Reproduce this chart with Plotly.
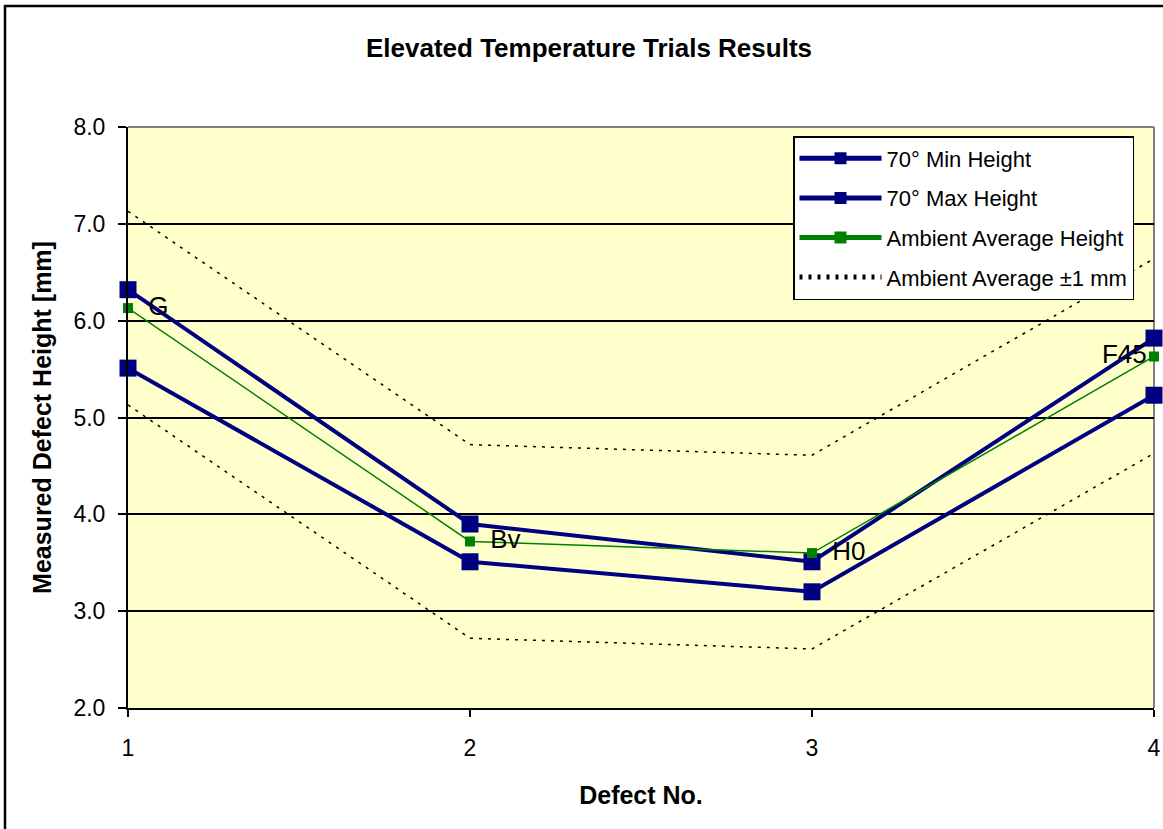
import plotly.graph_objects as go

defects = [1, 2, 3, 4]
min_height = [5.51, 3.51, 3.20, 5.23]
max_height = [6.32, 3.90, 3.51, 5.82]
ambient_avg = [6.13, 3.72, 3.60, 5.63]
ambient_upper = [7.13, 4.72, 4.61, 6.64]
ambient_lower = [5.13, 2.72, 2.61, 4.63]
point_labels = ["G", "Bv", "H0", "F45"]
y_ticks = [2, 3, 4, 5, 6, 7, 8]

NAVY = "#000080"
GREEN = "#008000"
FONT = "Arial, Liberation Sans, sans-serif"

label_text = ["\u2002" + t for t in point_labels[:-1]] + [point_labels[-1]]
label_pos = ["middle right"] * (len(point_labels) - 1) + ["middle left"]

fig = go.Figure()

fig.add_trace(go.Scatter(
    x=defects, y=ambient_upper, mode="lines", name="Ambient Average ±1 mm",
    line=dict(color="black", width=1.5, dash="3px,6px"), showlegend=True,
    legendrank=4, legendgroup="d"))
fig.add_trace(go.Scatter(
    x=defects, y=ambient_lower, mode="lines", name="Ambient Average ±1 mm",
    line=dict(color="black", width=1.5, dash="3px,6px"), showlegend=False,
    legendgroup="d"))

fig.add_trace(go.Scatter(
    x=defects, y=min_height, mode="lines+markers", name="70° Min Height",
    line=dict(color=NAVY, width=4), marker=dict(symbol="square", size=17, color=NAVY),
    cliponaxis=False, legendrank=1, legendgroup="a"))
fig.add_trace(go.Scatter(
    x=defects, y=max_height, mode="lines+markers", name="70° Max Height",
    line=dict(color=NAVY, width=4), marker=dict(symbol="square", size=17, color=NAVY),
    cliponaxis=False, legendrank=2, legendgroup="b"))
fig.add_trace(go.Scatter(
    x=defects, y=ambient_avg, mode="lines+markers+text", name="Ambient Average Height",
    line=dict(color=GREEN, width=1.5), marker=dict(symbol="square", size=10, color=GREEN),
    text=label_text, textposition=label_pos,
    textfont=dict(size=26, color="black", family=FONT), cliponaxis=False,
    legendrank=3, legendgroup="c"))

W, H = 1163, 829
L, R, T, B = 128, 9, 127, 121
pw, ph = W - L - R, H - T - B

def px_x(x):
    return (x - L) / pw

def px_y(y):
    return (H - B - y) / ph

shapes = [
    dict(type="rect", xref="paper", yref="paper",
         x0=px_x(5), x1=px_x(1175), y0=px_y(840), y1=px_y(6),
         line=dict(color="black", width=2.5), fillcolor="rgba(0,0,0,0)", layer="below"),
    dict(type="line", xref="paper", yref="paper", x0=0, x1=1, y0=1, y1=1,
         line=dict(color="#808080", width=2), layer="below"),
    dict(type="line", xref="paper", yref="paper", x0=1, x1=1, y0=0, y1=1,
         line=dict(color="#808080", width=2), layer="below"),
]

fig.update_layout(
    width=W, height=H,
    margin=dict(l=L, r=R, t=T, b=B, autoexpand=False),
    paper_bgcolor="white",
    plot_bgcolor="#FFFFCC",
    font=dict(family=FONT, color="black", size=22),
    title=dict(text="<b>Elevated Temperature Trials Results</b>", x=px_x(589),
               xanchor="center", xref="paper", y=1 - 48 / H, yanchor="middle",
               font=dict(size=26)),
    shapes=shapes,
    legend=dict(x=px_x(793), y=px_y(136), xanchor="left", yanchor="top",
                bgcolor="white", bordercolor="black", borderwidth=1.5,
                font=dict(size=22), tracegroupgap=8, itemwidth=82,
                traceorder="grouped", itemsizing="constant"),
    showlegend=True,
)

fig.update_xaxes(
    range=[1, 4], tickvals=defects, ticktext=[str(d) for d in defects],
    ticks="outside", ticklen=7, tickwidth=2, tickcolor="black",
    showline=True, linecolor="black", linewidth=2, showgrid=False, zeroline=False,
    tickfont=dict(size=23), ticklabelstandoff=11, automargin=False,
    title=dict(text="<b>Defect No.</b>", font=dict(size=25), standoff=27),
)
fig.update_yaxes(
    range=[2, 8], tickvals=y_ticks, tickformat=".1f",
    ticks="outside", ticklen=8, tickwidth=2, tickcolor="black",
    showline=True, linecolor="black", linewidth=2,
    showgrid=True, gridcolor="black", gridwidth=1.5, zeroline=False,
    tickfont=dict(size=23), ticklabelstandoff=8, automargin=False,
    title=dict(text="<b>Measured Defect Height [mm]</b>", font=dict(size=25), standoff=15),
)

fig.write_html("out.html")
